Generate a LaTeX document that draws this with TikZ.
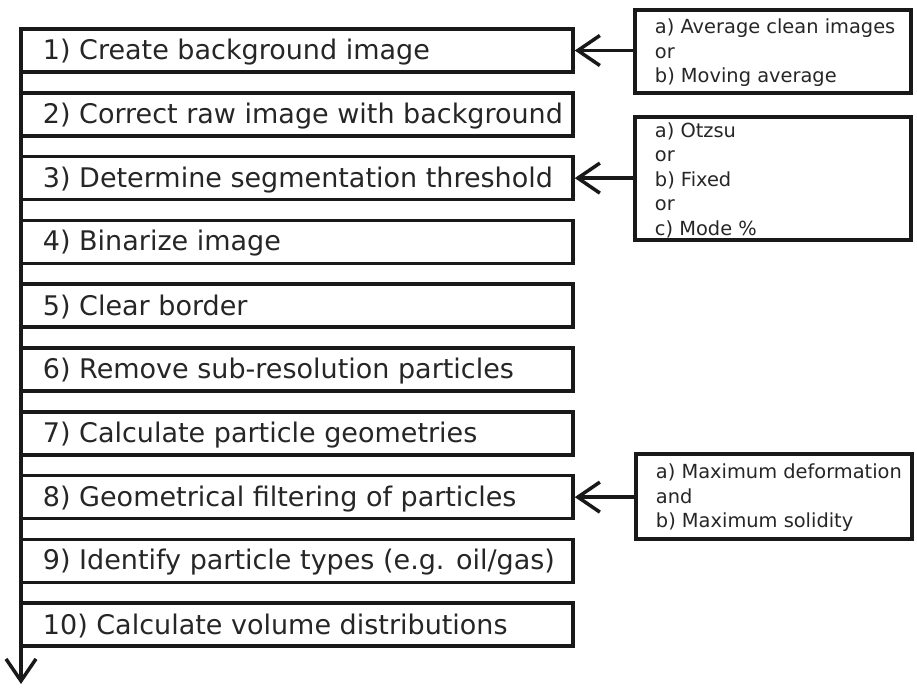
\documentclass[tikz,border=0pt]{standalone}
\usepackage{fontspec}
\setmainfont{DejaVu Sans}
\usetikzlibrary{arrows.meta,calc}
\begin{document}
\begin{tikzpicture}[x=1pt,y=-1pt,
  stepbox/.style={draw=black!90, line width=3.5pt, minimum width=552pt, minimum height=43pt, inner sep=0pt, fill=white},
  steptext/.style={anchor=west, inner xsep=23.5pt, inner ysep=0pt, yshift=-1.5pt, text=black!85, font=\fontsize{27}{30}\selectfont},
  sidebox/.style={draw=black!90, line width=3.5pt, minimum width=276pt, inner sep=0pt},
  sidetext/.style={anchor=west, inner xsep=21.5pt, inner ysep=0pt, yshift=-1.5pt, align=left, text=black!85, font=\fontsize{19.4}{24.5}\selectfont},
  conn/.style={draw=black!90, line width=3.5pt, -{Straight Barb[length=22pt,width=30pt,line width=3.5pt]}}
]
\useasboundingbox (0,0) rectangle (917,689);
% main flow line
\coordinate (top) at (21,29);
\coordinate (bottom) at (21,684);
\draw[conn] (top) -- (bottom);
% steps
\foreach \i/\t in {1/{1) Create background image},
                   2/{2) Correct raw image with background},
                   3/{3) Determine segmentation threshold},
                   4/{4) Binarize image},
                   5/{5) Clear border},
                   6/{6) Remove sub-resolution particles},
                   7/{7) Calculate particle geometries},
                   8/{8) Geometrical filtering of particles},
                   9/{9) Identify particle types (e.g. oil/gas)},
                   10/{10) Calculate volume distributions}} {
  \node[stepbox] (b\i) at (297, {50.5+63.8*(\i-1)}) {};
  \node[steptext] (t\i) at (b\i.west) {\t};
}
% side boxes
\node[sidebox, minimum height=83pt] (sa) at (773, 51.5) {};
\node[sidetext] (ta) at (sa.west) {a) Average clean images\\or\\b) Moving average};
\node[sidebox, minimum height=123pt] (sb) at (773, 178.5) {};
\node[sidetext] (tb) at (sb.west) {a) Otzsu\\or\\b) Fixed\\or\\c) Mode \%};
\node[sidebox, minimum height=85pt] (sc) at (774, 496.5) {};
\node[sidetext] (tc) at (sc.west) {a) Maximum deformation\\and\\b) Maximum solidity};
% connectors
\draw[conn] (sa.west |- b1.east) -- (b1.east);
\draw[conn] (sb.west |- b3.east) -- (b3.east);
\draw[conn] (sc.west |- b8.east) -- (b8.east);
\end{tikzpicture}
\end{document}
